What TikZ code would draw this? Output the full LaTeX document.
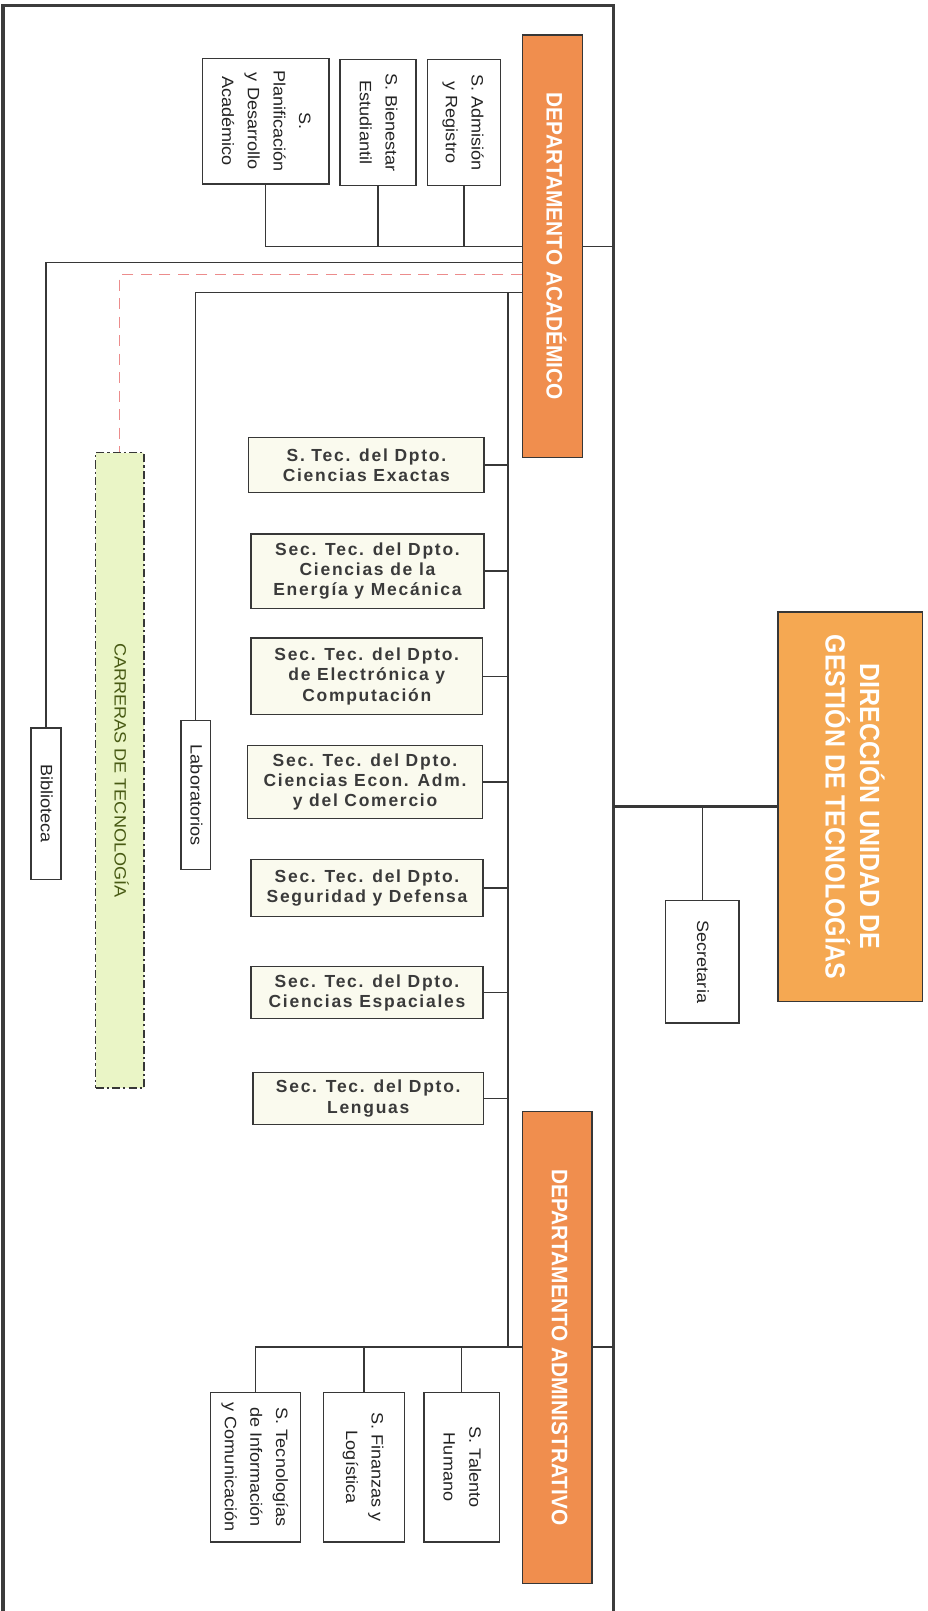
\documentclass[tikz,border=0pt]{standalone}
\usepackage{fontspec}
\usepackage{graphicx}
\setmainfont{Liberation Sans}
\newfontfamily\smallfont[FakeStretch=1.1]{Liberation Sans}
\newfontfamily\deptfont[FakeStretch=0.93]{Liberation Sans}
\newfontfamily\dirfont[FakeStretch=0.9]{Liberation Sans}
\newfontfamily\secfont[LetterSpace=10]{Liberation Sans}
\definecolor{dirorange}{RGB}{245,168,82}
\definecolor{deptorange}{RGB}{240,142,78}
\definecolor{carfill}{RGB}{234,245,198}
\definecolor{cartext}{RGB}{72,90,20}
\definecolor{secfill}{RGB}{250,250,238}
\definecolor{sectext}{RGB}{58,58,58}
\definecolor{subtext}{RGB}{35,35,35}
\definecolor{linec}{RGB}{55,55,55}
\definecolor{framec}{RGB}{60,60,60}
\definecolor{pinkd}{RGB}{236,140,140}
\newcommand{\rtxt}[2]{\rotatebox{-90}{#1\begin{tabular}{@{}c@{}}#2\end{tabular}}}
\newcommand{\smallset}{\smallfont\fontsize{16}{25}\selectfont}
\tikzset{
  dirbox/.style={draw=linec, line width=1.4pt, fill=dirorange, inner sep=0pt, text=white},
  deptbox/.style={draw=linec, line width=1.4pt, fill=deptorange, inner sep=0pt, text=white},
  subbox/.style={draw=linec, line width=1.3pt, fill=white, inner sep=0pt, text=subtext},
  secbox/.style={draw=linec, line width=1.3pt, fill=secfill, inner sep=0pt, align=center, text=sectext,
    font=\secfont\bfseries\fontsize{17}{19.5}\selectfont},
  carbox/.style={draw=linec, line width=1.3pt, fill=carfill, dash pattern=on 8pt off 3pt on 2pt off 3pt,
    inner sep=0pt, text=cartext},
  conn/.style={draw=linec, line width=1.3pt},
  framestyle/.style={draw=framec, line width=3.5pt},
  pinkline/.style={draw=pinkd, line width=1.2pt, dash pattern=on 11pt off 7pt},
}
\begin{document}
\begin{tikzpicture}[x=1pt,y=-1pt]
\useasboundingbox (0,0) rectangle (903,1568);
\fill[white] (0,0) rectangle (903,1568);
% frame
\coordinate (fbl) at (3,1610);
\coordinate (ftl) at (3,5.5);
\coordinate (ftr) at (597,5.5);
\coordinate (fbr) at (597,1610);
\draw[framestyle] (fbl) -- (ftl) -- (ftr) -- (fbr);
\coordinate (trunk) at (597,0);

% direccion
\node[dirbox, minimum width=140.5pt, minimum height=379pt] (dir) at (827.5,785.2)
  {\rtxt{\dirfont\bfseries\fontsize{27}{32}\selectfont}{DIRECCIÓN UNIDAD DE\\GESTIÓN DE TECNOLOGÍAS}};
\node[subbox, minimum width=71.7pt, minimum height=119pt] (sec) at (683.5,936.2)
  {\rtxt{\smallset}{Secretaria}};

% departamentos
\node[deptbox, minimum width=58.4pt, minimum height=411.3pt] (dac) at (537.8,239.7)
  {\rtxt{\deptfont\bfseries\fontsize{21.8}{26}\selectfont}{DEPARTAMENTO ACADÉMICO}};
\node[deptbox, minimum width=67.4pt, minimum height=459.3pt] (dad) at (542.3,1311.3)
  {\rtxt{\deptfont\bfseries\fontsize{21.8}{26}\selectfont}{DEPARTAMENTO ADMINISTRATIVO}};

% sub boxes academico
\node[subbox, minimum width=123pt, minimum height=122.2pt] (plan) at (258.7,118)
  {\rtxt{\smallset}{S.\\Planificación\\y Desarrollo\\Académico}};
\node[subbox, minimum width=74pt, minimum height=123pt] (bien) at (367.8,119.2)
  {\rtxt{\smallset}{S. Bienestar\\Estudiantil}};
\node[subbox, minimum width=71.4pt, minimum height=123pt] (adm) at (451.5,119.2)
  {\rtxt{\smallset}{S. Admisión\\y Registro}};

% left column
\node[subbox, minimum width=29.2pt, minimum height=147pt] (bib) at (44.8,782.2)
  {\rtxt{\smallset}{Biblioteca}};
\node[carbox, minimum width=47pt, minimum height=618.5pt] (car) at (116.6,749.8)
  {\rtxt{\smallset}{CARRERAS DE TECNOLOGÍA}};
\node[subbox, minimum width=28.9pt, minimum height=145.2pt] (lab) at (190.5,773.9)
  {\rtxt{\smallset}{Laboratorios}};

% secretarias tecnicas
\node[secbox, minimum width=229pt, minimum height=54pt] (st1) at (356.6,452.5)
  {S. Tec. del Dpto.\\Ciencias Exactas};
\node[secbox, minimum width=227pt, minimum height=72.3pt] (st2) at (357.7,555.8)
  {Sec. Tec. del Dpto.\\Ciencias de la\\Energía y Mecánica};
\node[secbox, minimum width=225.5pt, minimum height=74.6pt] (st3) at (357,658.4)
  {Sec. Tec. del Dpto.\\de Electrónica y\\Computación};
\node[secbox, minimum width=228.7pt, minimum height=70.7pt] (st4) at (355.3,761)
  {Sec. Tec. del Dpto.\\Ciencias Econ. Adm.\\y del Comercio};
\node[secbox, minimum width=226pt, minimum height=55.2pt] (st5) at (357.2,864.4)
  {Sec. Tec. del Dpto.\\Seguridad y Defensa};
\node[secbox, minimum width=226pt, minimum height=51pt] (st6) at (357.2,966)
  {Sec. Tec. del Dpto.\\Ciencias Espaciales};
\node[secbox, minimum width=224pt, minimum height=51pt] (st7) at (358.4,1069.2)
  {Sec. Tec. del Dpto.\\Lenguas};

% sub boxes administrativo
\node[subbox, minimum width=73.3pt, minimum height=145.7pt] (tal) at (449.3,1427.9)
  {\rtxt{\smallset}{S. Talento\\Humano}};
\node[subbox, minimum width=79.4pt, minimum height=145.7pt] (fin) at (354.3,1427.9)
  {\rtxt{\smallset}{S. Finanzas y\\Logística}};
\node[subbox, minimum width=87.6pt, minimum height=145.7pt] (tic) at (248.8,1427.9)
  {\rtxt{\smallset}{S. Tecnologías\\de Información\\y Comunicación}};

% connectors
\draw[conn, line width=2.5pt] (dir.west) -- (dir.west -| trunk);
\draw[conn] (sec.north) -- (sec.north |- dir.west);

\coordinate (acbus) at (0,240);
\draw[conn] (dac.east |- acbus) -- (trunk |- acbus);
\draw[conn] (plan.south) |- (dac.west |- acbus);
\draw[conn] (bien.south) -- (bien.south |- acbus);
\draw[conn] (adm.south) -- (adm.south |- acbus);

\coordinate (bibline) at (0,255.5);
\draw[conn] (dac.west |- bibline) -| (bib.north);
\coordinate (carline) at (0,267.5);
\draw[pinkline] (dac.west |- carline) -| (car.north);
\coordinate (labline) at (0,284.5);
\draw[conn] (dac.west |- labline) -| (lab.north);

\coordinate (sbtop) at (494.5,284.5);
\coordinate (adbus) at (494.5,1311);
\draw[conn] (sbtop) -- (adbus) -- (dad.west |- adbus);
\foreach \n in {st1,st2,st3,st4,st5,st6,st7}
  \draw[conn] (\n.east) -- (\n.east -| sbtop);
\draw[conn] (adbus) -| (tic.north);
\draw[conn] (fin.north) -- (fin.north |- adbus);
\draw[conn] (tal.north) -- (tal.north |- adbus);
\draw[conn] (dad.east |- adbus) -- (trunk |- adbus);
\end{tikzpicture}
\end{document}
